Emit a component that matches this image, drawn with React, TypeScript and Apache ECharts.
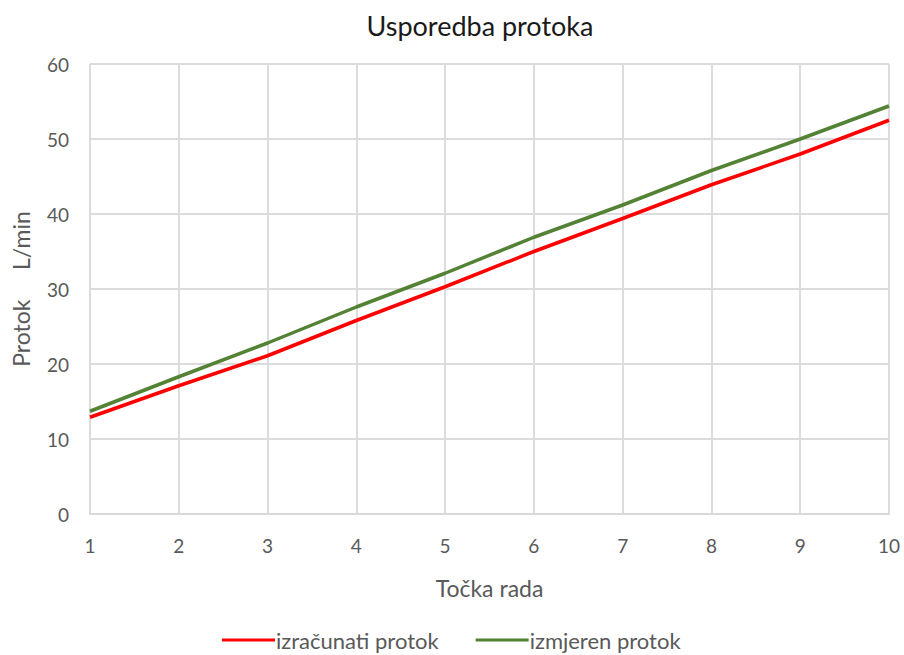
import React, { useEffect, useRef } from "react";
import * as echarts from "echarts";

const categories = ["1", "2", "3", "4", "5", "6", "7", "8", "9", "10"];
const izracunati = [12.9, 17.1, 21.1, 25.8, 30.3, 35.0, 39.4, 43.9, 48.0, 52.5];
const izmjereni = [13.7, 18.3, 22.8, 27.6, 32.1, 36.9, 41.2, 45.8, 50.0, 54.4];

const FONT = "Lato, 'Open Sans', sans-serif";
const GRAY = "#595959";

export default function App() {
  const ref = useRef<HTMLDivElement>(null);
  useEffect(() => {
    if (!ref.current) return;
    const chart = echarts.init(ref.current, null, { renderer: "svg" });
    chart.setOption({
      animation: false,
      title: {
        text: "Usporedba protoka",
        left: 475,
        textAlign: "center",
        top: 7,
        textStyle: { fontFamily: FONT, fontSize: 27, fontWeight: "normal", color: "#1a1a1a" },
      },
      grid: { left: 90, right: 15, top: 64, bottom: 141, containLabel: false },
      legend: {
        bottom: -1,
        left: 217,
        itemWidth: 53,
        itemHeight: 3,
        itemGap: 37,
        icon: "rect",
        textStyle: { fontFamily: FONT, fontSize: 22, color: GRAY, padding: [0, 0, 0, -4] },
        data: ["izračunati protok", "izmjeren protok"],
      },
      xAxis: {
        type: "category",
        data: categories,
        boundaryGap: false,
        name: "Točka rada",
        nameLocation: "middle",
        nameGap: 62,
        nameTextStyle: { fontFamily: FONT, fontSize: 23, color: GRAY },
        axisLine: { lineStyle: { color: "#d9d9d9", width: 2 } },
        axisTick: { show: false },
        axisLabel: { fontFamily: FONT, fontSize: 19, color: GRAY, margin: 22 },
        splitLine: { show: true, lineStyle: { color: "#dcdcdc", width: 2 } },
      },
      yAxis: {
        type: "value",
        min: 0,
        max: 60,
        interval: 10,
        name: "Protok     L/min",
        nameLocation: "middle",
        nameGap: 58,
        nameTextStyle: { fontFamily: FONT, fontSize: 23, color: GRAY },
        axisLine: { show: false },
        axisTick: { show: false },
        axisLabel: { fontFamily: FONT, fontSize: 19, color: GRAY, margin: 21 },
        splitLine: { lineStyle: { color: "#dcdcdc", width: 2 } },
      },
      series: [
        {
          name: "izračunati protok",
          type: "line",
          data: izracunati,
          symbol: "none",
          lineStyle: { color: "#ff0000", width: 3.5 },
          itemStyle: { color: "#ff0000" },
        },
        {
          name: "izmjeren protok",
          type: "line",
          data: izmjereni,
          symbol: "none",
          lineStyle: { color: "#548235", width: 3.5 },
          itemStyle: { color: "#548235" },
        },
      ],
    });
    return () => chart.dispose();
  }, []);
  return (
    <div
      ref={ref}
      style={{ position: "fixed", left: 0, top: 0, width: 904, height: 655, background: "#fff" }}
    />
  );
}
